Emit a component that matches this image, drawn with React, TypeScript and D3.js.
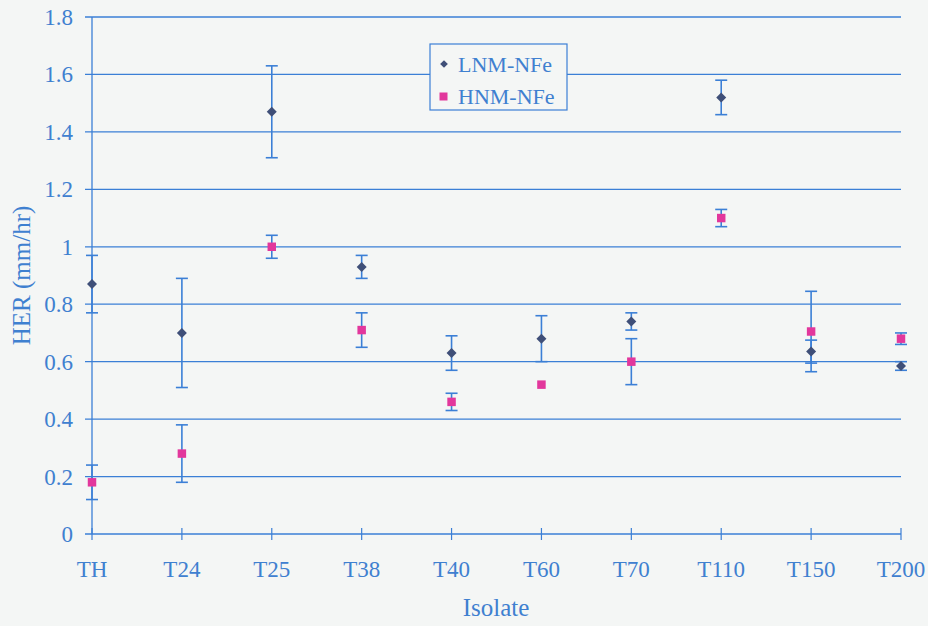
import React from "react";
import * as d3 from "d3";

const isolates = ["TH", "T24", "T25", "T38", "T40", "T60", "T70", "T110", "T150", "T200"];
const lnmValues = [0.87, 0.7, 1.47, 0.93, 0.63, 0.68, 0.74, 1.52, 0.635, 0.585];
const lnmErrors = [0.1, 0.19, 0.16, 0.04, 0.06, 0.08, 0.03, 0.06, 0.04, 0.015];
const hnmValues = [0.18, 0.28, 1.0, 0.71, 0.46, 0.52, 0.6, 1.1, 0.705, 0.68];
const hnmErrors = [0.06, 0.1, 0.04, 0.06, 0.03, 0.0, 0.08, 0.03, 0.14, 0.02];
const yTicks = [0, 0.2, 0.4, 0.6, 0.8, 1, 1.2, 1.4, 1.6, 1.8];
const seriesNames = ["LNM-NFe", "HNM-NFe"];

const W = 928;
const H = 626;
const BLUE = "#3b7fd6";
const TEXT = "#3f80d0";
const DIAMOND = "#3f4f78";
const MAGENTA = "#e2379c";
const FONT = "'Liberation Serif', 'Times New Roman', serif";

export default function App() {
  const x = d3.scalePoint<string>().domain(isolates).range([92, 901]).padding(0);
  const y = d3.scaleLinear().domain([0, 1.8]).range([534, 17]);
  const fmt = (v: number) => (Number.isInteger(v) ? String(v) : v.toFixed(1));
  const diamond = d3.symbol().type(d3.symbolSquare).size(50)();
  const square = d3.symbol().type(d3.symbolSquare).size(72)();
  const cap = 6;

  const errBar = (cx: number, v: number, e: number, key: string) =>
    e > 0 ? (
      <g key={key} stroke={BLUE} strokeWidth={1.6} fill="none">
        <line x1={cx} x2={cx} y1={y(v + e)} y2={y(v - e)} />
        <line x1={cx - cap} x2={cx + cap} y1={y(v + e)} y2={y(v + e)} />
        <line x1={cx - cap} x2={cx + cap} y1={y(v - e)} y2={y(v - e)} />
      </g>
    ) : null;

  return (
    <svg
      width={W}
      height={H}
      style={{ position: "absolute", left: 0, top: 0, background: "#f4f6f5" }}
      fontFamily={FONT}
    >
      <rect x={0} y={0} width={W} height={H} fill="#f4f6f5" />
      {yTicks.map((t) => (
        <line key={"g" + t} x1={85} x2={901} y1={y(t)} y2={y(t)} stroke={BLUE} strokeWidth={1.3} />
      ))}
      <line x1={92} x2={92} y1={y(1.8)} y2={y(0)} stroke={BLUE} strokeWidth={1.3} />
      {yTicks.map((t) => (
        <text key={"yl" + t} x={73} y={y(t)} dy="0.35em" textAnchor="end" fill={TEXT} fontSize={23}>
          {fmt(t)}
        </text>
      ))}
      {isolates.map((c) => (
        <g key={"xt" + c}>
          <line x1={x(c)!} x2={x(c)!} y1={y(0) - 6} y2={y(0) + 6} stroke={BLUE} strokeWidth={1.2} />
          <text x={x(c)!} y={577} textAnchor="middle" fill={TEXT} fontSize={23}>
            {c}
          </text>
        </g>
      ))}
      <text x={496} y={616} textAnchor="middle" fill={TEXT} fontSize={25}>
        Isolate
      </text>
      <text
        transform={`translate(30, ${y(0.9)}) rotate(-90)`}
        textAnchor="middle"
        fill={TEXT}
        fontSize={25}
      >
        HER (mm/hr)
      </text>
      {isolates.map((c, i) => errBar(x(c)!, lnmValues[i], lnmErrors[i], "le" + c))}
      {isolates.map((c, i) => errBar(x(c)!, hnmValues[i], hnmErrors[i], "he" + c))}
      {isolates.map((c, i) => (
        <path
          key={"lm" + c}
          d={diamond!}
          transform={`translate(${x(c)},${y(lnmValues[i])}) rotate(45)`}
          fill={DIAMOND}
        />
      ))}
      {isolates.map((c, i) => (
        <path key={"hm" + c} d={square!} transform={`translate(${x(c)},${y(hnmValues[i])})`} fill={MAGENTA} />
      ))}
      <g>
        <rect x={430} y={44} width={137} height={66} fill="#f4f6f5" stroke={BLUE} strokeWidth={1.2} />
        <path
          d={d3.symbol().type(d3.symbolSquare).size(30)()!}
          transform="translate(444,64) rotate(45)"
          fill={DIAMOND}
        />
        <text x={458} y={64} dy="0.35em" fill={TEXT} fontSize={22}>
          {seriesNames[0]}
        </text>
        <rect x={439.5} y={92.5} width={8} height={8} fill={MAGENTA} />
        <text x={458} y={96} dy="0.35em" fill={TEXT} fontSize={22}>
          {seriesNames[1]}
        </text>
      </g>
    </svg>
  );
}
